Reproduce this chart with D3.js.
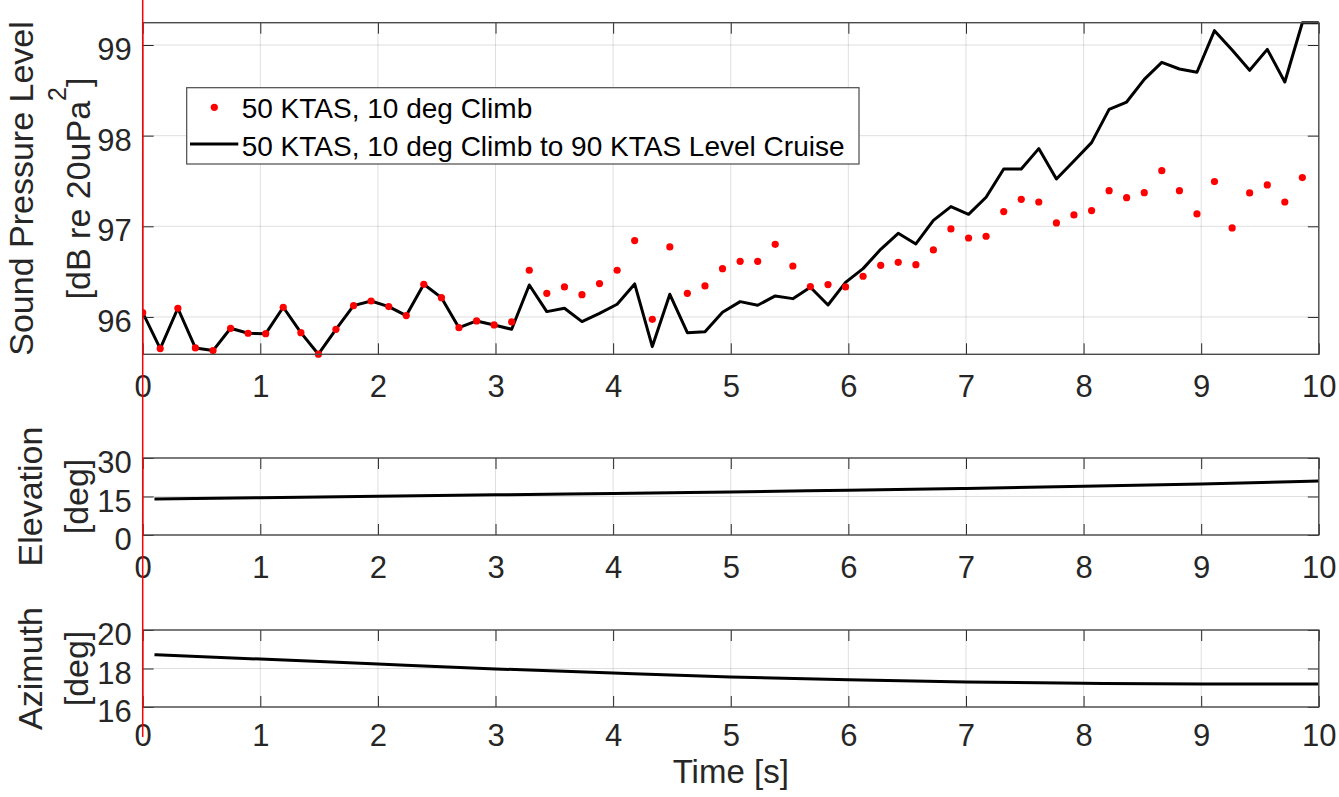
<!DOCTYPE html>
<html>
<head>
<meta charset="utf-8">
<script src="https://cdn.jsdelivr.net/npm/d3@7"></script>
<style>
body { margin: 0; background: #fff; }
</style>
</head>
<body>
<svg id="fig"></svg>
<script>
const timeTicks = [0, 1, 2, 3, 4, 5, 6, 7, 8, 9, 10];

// sound pressure level, sampled every ~0.149 s
const splTime = [0.000, 0.149, 0.299, 0.448, 0.598, 0.747, 0.896, 1.046, 1.195, 1.345,
  1.494, 1.643, 1.793, 1.942, 2.092, 2.241, 2.390, 2.540, 2.689, 2.839,
  2.988, 3.137, 3.287, 3.436, 3.586, 3.735, 3.884, 4.034, 4.183, 4.333,
  4.482, 4.631, 4.781, 4.930, 5.080, 5.229, 5.378, 5.528, 5.677, 5.827,
  5.976, 6.125, 6.275, 6.424, 6.574, 6.723, 6.872, 7.022, 7.171, 7.321,
  7.470, 7.619, 7.769, 7.918, 8.068, 8.217, 8.366, 8.516, 8.665, 8.815,
  8.964, 9.113, 9.263, 9.412, 9.562, 9.711, 9.860, 10.010];

const splClimb = [96.048, 95.651, 96.096, 95.658, 95.629, 95.875, 95.820, 95.816, 96.107, 95.827,
  95.589, 95.864, 96.125, 96.176, 96.114, 96.015, 96.360, 96.213, 95.882, 95.956,
  95.912, 95.945, 96.515, 96.261, 96.331, 96.246, 96.368, 96.515, 96.842, 95.974,
  96.772, 96.261, 96.342, 96.533, 96.614, 96.614, 96.801, 96.562, 96.335, 96.357,
  96.331, 96.449, 96.570, 96.603, 96.577, 96.739, 96.971, 96.871, 96.890, 97.162,
  97.298, 97.268, 97.037, 97.125, 97.173, 97.393, 97.316, 97.371, 97.614, 97.393,
  97.136, 97.493, 96.982, 97.368, 97.456, 97.268, 97.537];

const splCruise = [96.048, 95.651, 96.096, 95.658, 95.629, 95.875, 95.820, 95.816, 96.107, 95.827,
  95.589, 95.864, 96.125, 96.176, 96.114, 96.015, 96.360, 96.213, 95.882, 95.956,
  95.912, 95.864, 96.353, 96.059, 96.096, 95.949, 96.040, 96.140, 96.364, 95.673,
  96.250, 95.827, 95.838, 96.051, 96.169, 96.129, 96.232, 96.202, 96.327, 96.132,
  96.382, 96.533, 96.746, 96.923, 96.805, 97.065, 97.217, 97.132, 97.320, 97.632,
  97.632, 97.857, 97.522, 97.720, 97.923, 98.290, 98.371, 98.621, 98.809, 98.735,
  98.699, 99.158, 98.945, 98.721, 98.952, 98.592, 99.246, 99.246];

const angleTime = [0.1, 1, 2, 3, 4, 5, 6, 7, 8, 9, 10];
const elevation = [14.0, 14.55, 15.1, 15.65, 16.2, 16.8, 17.45, 18.15, 18.95, 19.9, 21.0];
const azimuth = [18.72, 18.49, 18.23, 17.98, 17.76, 17.56, 17.41, 17.30, 17.23, 17.20, 17.20];

const splTicks = [96, 97, 98, 99];
const elevTicks = [0, 15, 30];
const azimTicks = [16, 18, 20];

const W = 1339, H = 797;
const FONT = "'Liberation Sans', Arial, Helvetica, sans-serif";
const INK = '#262626';

const svg = d3.select('#fig')
  .attr('width', W)
  .attr('height', H)
  .style('background-color', '#fff')
  .style('display', 'block');

const x = d3.scaleLinear().domain([0, 10]).range([142.7, 1318.8]);
const [x0, x1] = x.range();

let clipN = 0;

function panel(top, bottom, yDomain, yTicks) {
  const y = d3.scaleLinear().domain(yDomain).range([bottom, top]);
  const g = svg.append('g');

  const id = 'clip' + (clipN++);
  svg.append('clipPath').attr('id', id)
    .append('rect')
    .attr('x', x0).attr('y', top - 6)
    .attr('width', x1 - x0).attr('height', bottom - top + 12);

  // grid
  g.append('g').selectAll('line').data(timeTicks).join('line')
    .attr('x1', d => x(d)).attr('x2', d => x(d))
    .attr('y1', top).attr('y2', bottom)
    .style('stroke', INK).style('stroke-opacity', 0.15);
  g.append('g').selectAll('line').data(yTicks).join('line')
    .attr('x1', x0).attr('x2', x1)
    .attr('y1', d => y(d)).attr('y2', d => y(d))
    .style('stroke', INK).style('stroke-opacity', 0.15);

  const plot = g.append('g').attr('clip-path', `url(#${id})`);
  return {g, y, plot, top, bottom, yTicks};
}

function axes(p, pad) {
  const {g, y, top, bottom, yTicks} = p;
  const none = () => '';

  const ab = g.append('g').attr('transform', `translate(0,${bottom})`)
    .call(d3.axisBottom(x).tickValues(timeTicks).tickSize(-11).tickSizeOuter(0)
      .tickPadding(pad).tickFormat(d3.format('d')));
  const at = g.append('g').attr('transform', `translate(0,${top})`)
    .call(d3.axisTop(x).tickValues(timeTicks).tickSize(-11).tickSizeOuter(0).tickFormat(none));
  const al = g.append('g').attr('transform', `translate(${x0},0)`)
    .call(d3.axisLeft(y).tickValues(yTicks).tickSize(-11).tickSizeOuter(0)
      .tickPadding(11).tickFormat(d3.format('d')));
  const ar = g.append('g').attr('transform', `translate(${x1},0)`)
    .call(d3.axisRight(y).tickValues(yTicks).tickSize(-11).tickSizeOuter(0).tickFormat(none));

  [ab, at, al, ar].forEach(a => {
    a.select('.domain').remove();
    a.selectAll('.tick line').style('stroke', INK).style('stroke-width', 1);
    a.selectAll('text')
      .style('font-family', FONT)
      .style('font-size', '31px')
      .style('fill', INK);
  });
  al.selectAll('text').attr('dy', '0.47em');

  g.append('rect')
    .attr('x', x0).attr('y', top)
    .attr('width', x1 - x0).attr('height', bottom - top)
    .style('fill', 'none')
    .style('stroke', '#4a4a4a')
    .style('stroke-width', 1.4);
}

// top: sound pressure level
const spl = panel(22.7, 354.3, [95.588, 99.246], splTicks);

const splLine = d3.line()
  .x((d, i) => x(splTime[i]))
  .y(d => spl.y(d));

spl.plot.append('path')
  .datum(splCruise)
  .attr('d', splLine)
  .style('fill', 'none')
  .style('stroke', '#000')
  .style('stroke-width', 3)
  .style('stroke-linejoin', 'round');

spl.plot.append('g').selectAll('circle').data(splClimb).join('circle')
  .attr('cx', (d, i) => x(splTime[i]))
  .attr('cy', d => spl.y(d))
  .attr('r', 3.6)
  .style('fill', '#ff0000');

axes(spl, 21);

// elevation and azimuth
const elev = panel(458, 535, [0, 30], elevTicks);
const azim = panel(630, 707, [16, 20], azimTicks);

[[elev, elevation, 21], [azim, azimuth, 17]].forEach(([p, vals, pad]) => {
  p.plot.append('path')
    .datum(vals)
    .attr('d', d3.line()
      .x((d, i) => x(angleTime[i]))
      .y(d => p.y(d))
      .curve(d3.curveMonotoneX))
    .style('fill', 'none')
    .style('stroke', '#000')
    .style('stroke-width', 3);
  axes(p, pad);
});

// y labels
function ylabel(cx, cy, txt, sup) {
  const t = svg.append('text')
    .attr('transform', `translate(${cx},${cy}) rotate(-90)`)
    .attr('text-anchor', 'middle')
    .style('font-family', FONT)
    .style('font-size', '34px')
    .style('fill', INK);
  if (sup) {
    t.append('tspan').text(txt);
    t.append('tspan').attr('dy', -24).style('font-size', '25px').text(sup);
    t.append('tspan').attr('dy', 24).text(']');
  } else {
    t.text(txt);
  }
}

ylabel(33, 188.5, 'Sound Pressure Level');
ylabel(89.5, 188.5, '[dB re 20uPa', '2');
ylabel(41.7, 496.5, 'Elevation');
ylabel(88, 496.5, '[deg]');
ylabel(41.7, 668.5, 'Azimuth');
ylabel(88, 668.5, '[deg]');

svg.append('text')
  .attr('x', (x0 + x1) / 2)
  .attr('y', 783)
  .attr('text-anchor', 'middle')
  .style('font-family', FONT)
  .style('font-size', '33px')
  .style('fill', INK)
  .text('Time [s]');

// legend
const lg = svg.append('g');
lg.append('rect')
  .attr('x', 186.7).attr('y', 87.7)
  .attr('width', 672.3).attr('height', 76.3)
  .style('fill', '#fff')
  .style('stroke', '#4a4a4a')
  .style('stroke-width', 1.2);
lg.append('circle')
  .attr('cx', 214.3).attr('cy', 107.3).attr('r', 3.6)
  .style('fill', '#ff0000');
lg.append('line')
  .attr('x1', 190).attr('x2', 238.3)
  .attr('y1', 144).attr('y2', 144)
  .style('stroke', '#000')
  .style('stroke-width', 3);
const legendText = ['50 KTAS, 10 deg Climb', '50 KTAS, 10 deg Climb to 90 KTAS Level Cruise'];
lg.selectAll('text.lt').data(legendText).join('text')
  .attr('class', 'lt')
  .attr('x', 241.7)
  .attr('y', (d, i) => i ? 156 : 118.3)
  .style('font-family', FONT)
  .style('font-size', '28px')
  .style('fill', '#000')
  .text(d => d);

// red cursor line at t = 0
svg.append('line')
  .attr('x1', x(0)).attr('x2', x(0))
  .attr('y1', 0).attr('y2', 737)
  .style('stroke', '#ff0000')
  .style('stroke-width', 1.5);
</script>
</body>
</html>
